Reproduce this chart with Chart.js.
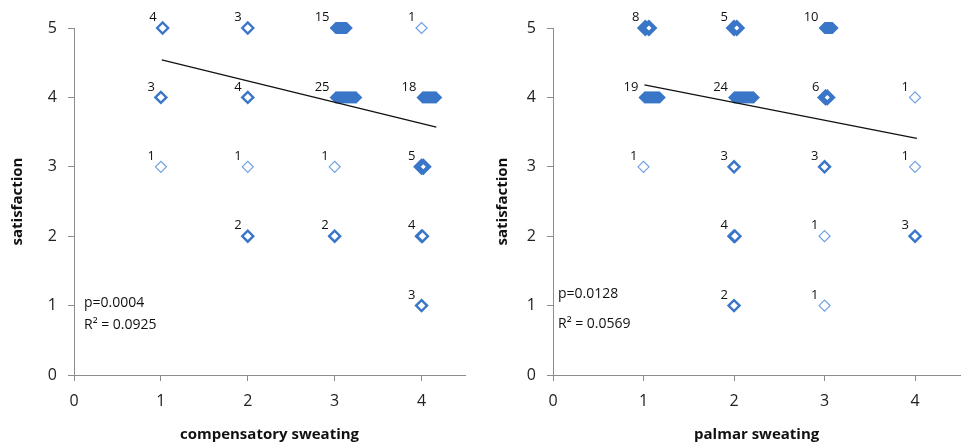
<!DOCTYPE html>
<html>
<head>
<meta charset="utf-8">
<script src="https://cdn.jsdelivr.net/npm/chart.js@4/dist/chart.umd.min.js"></script>
<style>
  html, body { margin: 0; padding: 0; background: #fff; }
  #wrap { position: relative; width: 970px; height: 444px; }
  .box { position: absolute; top: 0; width: 485px; height: 444px; }
</style>
</head>
<body>
<div id="wrap">
  <div class="box" style="left:0"><canvas id="left"></canvas></div>
  <div class="box" style="left:485px"><canvas id="right"></canvas></div>
</div>
<script>
// compensatory sweating vs satisfaction (x = left of jitter band, xEnd = right of band)
const compX    = [1.02, 2, 3.01, 4,  1, 2, 3.01, 4.01,  1, 2, 3, 4,  2, 3, 4,  4];
const compXEnd = [1.02, 2, 3.14, 4,  1, 2, 3.25, 4.17,  1, 2, 3, 4.02,  2, 3, 4.01,  4];
const compY    = [5, 5, 5, 5,  4, 4, 4, 4,  3, 3, 3, 3,  2, 2, 2,  1];
const compN    = [4, 3, 15, 1,  3, 4, 25, 18,  1, 1, 1, 5,  2, 2, 4,  3];
const compFitX = [1.01, 4.17];
const compFitY = [4.54, 3.57];
const compStats = ["p=0.0004", "R\u00b2 = 0.0925"];

// palmar sweating vs satisfaction
const palmX    = [1.02, 2.0, 3.0,  1.01, 2.0, 3.01, 4,  1, 2, 3, 4,  2, 3, 4,  2, 3];
const palmXEnd = [1.06, 2.03, 3.09,  1.18, 2.22, 3.03, 4,  1, 2, 3, 4,  2.01, 3, 4,  2, 3];
const palmY    = [5, 5, 5,  4, 4, 4, 4,  3, 3, 3, 3,  2, 2, 2,  1, 1];
const palmN    = [8, 5, 10,  19, 24, 6, 1,  1, 3, 3, 1,  4, 1, 3,  2, 1];
const palmFitX = [1.01, 4.02];
const palmFitY = [4.18, 3.41];
const palmStats = ["p=0.0128", "R\u00b2 = 0.0569"];

const xTicks = [0, 1, 2, 3, 4];
const yTicks = [0, 1, 2, 3, 4, 5];

const BLUE = "rgb(58,118,200)";
const LIGHT = "rgb(110,160,226)";
const FONT = "'Open Sans', 'Liberation Sans', sans-serif";

function groupDataset(x, xEnd, y, n) {
  const pts = x === xEnd ? [{ x: x, y: y }] : [{ x: x, y: y }, { x: xEnd, y: y }];
  const filled = n >= 10;
  let bw = 2.4, col = BLUE;
  if (n === 1) { bw = 1.2; col = LIGHT; }
  else if (n >= 5) bw = 4.2;
  return {
    data: pts,
    count: n,
    showLine: filled && pts.length > 1,
    borderColor: BLUE,
    borderWidth: 12,
    pointStyle: "rectRot",
    pointRadius: filled ? 6 : 5.5,
    pointBorderWidth: filled ? 0 : bw,
    pointBorderColor: col,
    pointBackgroundColor: filled ? BLUE : "#fff",
    clip: false,
    order: 2,
  };
}

// count labels + p / R² text
const labelPlugin = {
  id: "labels",
  afterDatasetsDraw(chart, args, opts) {
    const ctx = chart.ctx;
    ctx.save();
    ctx.fillStyle = "#111";
    ctx.font = "13px " + FONT;
    ctx.textAlign = "right";
    ctx.textBaseline = "bottom";
    chart.data.datasets.forEach((ds, i) => {
      if (!ds.count) return;
      const p = chart.getDatasetMeta(i).data[0];
      ctx.fillText(String(ds.count), p.x - 6, p.y - 4);
    });
    ctx.textAlign = "left";
    ctx.textBaseline = "middle";
    ctx.font = "14px " + FONT;
    const a = chart.chartArea;
    ctx.fillText(opts.lines[0], a.left + opts.dx, opts.y0);
    ctx.fillText(opts.lines[1], a.left + opts.dx, opts.y1);
    ctx.restore();
  },
};

function makeChart(id, xs, xEnds, ys, ns, fitX, fitY, stats, xTitle, yW, padRight, statPos) {
  const datasets = [{
    data: fitX.map((v, i) => ({ x: v, y: fitY[i] })),
    showLine: true,
    borderColor: "#111",
    borderWidth: 1.3,
    pointRadius: 0,
    order: 0,
  }];
  xs.forEach((v, i) => datasets.push(groupDataset(v, xEnds[i], ys[i], ns[i])));

  return new Chart(document.getElementById(id), {
    type: "scatter",
    data: { datasets },
    plugins: [labelPlugin],
    options: {
      responsive: true,
      maintainAspectRatio: false,
      animation: false,
      layout: { padding: { top: 28, right: padRight, bottom: 0, left: 0 } },
      plugins: {
        legend: { display: false },
        tooltip: { enabled: false },
        labels: { lines: stats, dx: statPos[0], y0: statPos[1], y1: statPos[2] },
      },
      scales: {
        x: {
          type: "linear",
          min: 0,
          max: 4.5,
          afterBuildTicks: (s) => { s.ticks = xTicks.map((v) => ({ value: v })); },
          afterFit: (s) => { s.height = 69; },
          grid: { drawOnChartArea: false, drawTicks: true, tickLength: 6, color: "#8c8c8c" },
          border: { color: "#8c8c8c", width: 1 },
          ticks: { color: "#222", padding: 11, font: { family: FONT, size: 16 } },
          title: {
            display: true,
            text: xTitle,
            color: "#111",
            padding: { top: 0, bottom: 0 },
            font: { family: FONT, size: 15, weight: "bold" },
          },
        },
        y: {
          type: "linear",
          min: 0,
          max: 5,
          afterBuildTicks: (s) => { s.ticks = yTicks.map((v) => ({ value: v })); },
          afterFit: (s) => { s.width = yW; },
          grid: { drawOnChartArea: false, drawTicks: true, tickLength: 6, color: "#8c8c8c" },
          border: { color: "#8c8c8c", width: 1 },
          ticks: { color: "#222", padding: 11, font: { family: FONT, size: 16 } },
          title: {
            display: true,
            text: "satisfaction",
            color: "#111",
            padding: { top: 9, bottom: 0 },
            font: { family: FONT, size: 15, weight: "bold" },
          },
        },
      },
    },
  });
}

makeChart("left", compX, compXEnd, compY, compN, compFitX, compFitY, compStats,
  "compensatory sweating", 74, 20, [10, 303, 325]);
makeChart("right", palmX, palmXEnd, palmY, palmN, palmFitX, palmFitY, palmStats,
  "palmar sweating", 68, 1, [5, 294, 324]);
</script>
</body>
</html>
